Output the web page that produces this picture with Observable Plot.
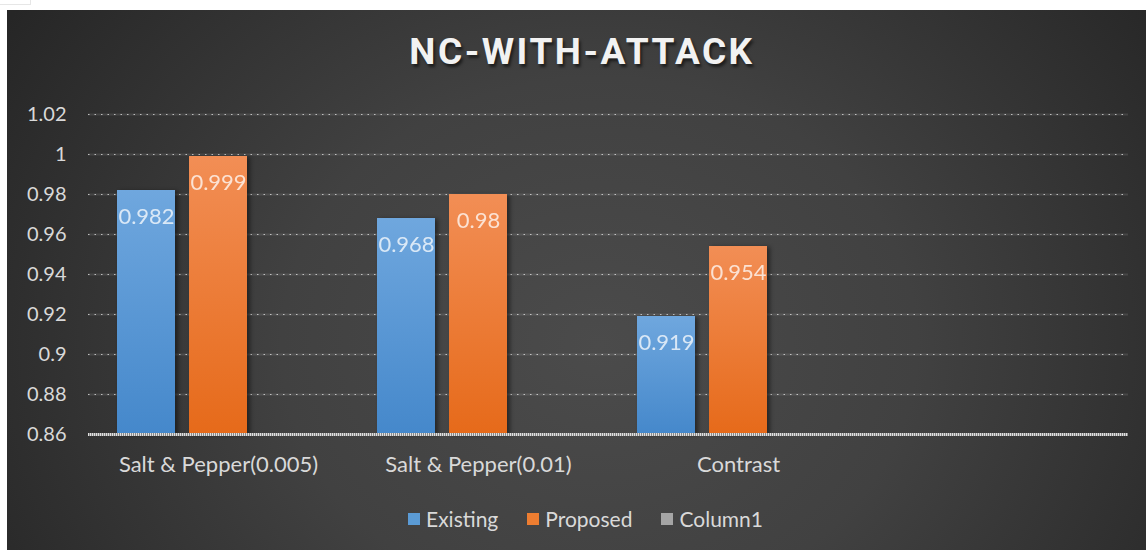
<!DOCTYPE html>
<html>
<head>
<meta charset="utf-8">
<script src="https://cdn.jsdelivr.net/npm/d3@7"></script>
<script src="https://cdn.jsdelivr.net/npm/@observablehq/plot@0.6"></script>
<style>
  html, body { margin: 0; padding: 0; background: #ffffff; width: 1146px; height: 550px; overflow: hidden; }
  #corner { position: absolute; left: 0; top: 0; width: 30px; height: 4px; border: 1px solid #e6e6e6; border-top: none; border-left: none; }
  #frame { position: absolute; left: 7px; top: 10px; width: 1139px; height: 540px;
    background: radial-gradient(ellipse 62% 110% at 52% 62%, #4b4b4b 0%, #414141 45%, #262626 100%); }
  #title { position: absolute; left: 0; top: 30px; width: 1164px; text-align: center; font-family: Roboto, sans-serif;
    font-weight: 700; font-size: 37px; line-height: 44px; letter-spacing: 2.5px; color: #f2f2f2; text-shadow: 2px 3px 3px rgba(0,0,0,0.55); }
  #chart { position: absolute; left: 0; top: 90px; }
  #legend { position: absolute; left: 408px; top: 506px; display: flex; align-items: center; font-family: Lato, sans-serif;
    font-size: 21px; color: #d9d9d9; }
  .item { display: flex; align-items: center; margin-right: 29px; }
  .sw { width: 12px; height: 12px; margin-right: 6px; }
</style>
</head>
<body>
<div id="corner"></div>
<div id="frame"></div>
<div id="title">NC-WITH-ATTACK</div>
<div id="chart"></div>
<div id="legend"></div>
<script>
const categories = ["Salt & Pepper(0.005)", "Salt & Pepper(0.01)", "Contrast", " "];
const series = ["Existing", "Proposed", "Column1"];
const existing = [0.982, 0.968, 0.919, null];
const proposed = [0.999, 0.98, 0.954, null];
const column1 = [null, null, null, null];
const yTicks = [0.86, 0.88, 0.9, 0.92, 0.94, 0.96, 0.98, 1, 1.02];
const seriesColors = ["#5b9bd5", "#ed7d31", "#a5a5a5"];

const rows = (name, vals) => categories.map((c, i) => ({cat: c, series: name, v: vals[i]})).filter(d => d.v != null);
const dExisting = rows("Existing", existing);
const dProposed = rows("Proposed", proposed);
const dColumn1 = rows("Column1", column1);
const allBars = [...dExisting, ...dProposed, ...dColumn1];

const grid = categories.flatMap(c => yTicks.filter(t => t > 0.86).map(t => ({cat: c, t})));
const base = categories.map(c => ({cat: c, t: 0.86}));

const fmt = d => String(+(+d).toFixed(3));

const chart = Plot.plot({
  width: 1146,
  height: 394,
  marginLeft: 88,
  marginRight: 18,
  marginTop: 24,
  marginBottom: 50,
  style: {background: "transparent", color: "#d9d9d9", fontFamily: "Lato, sans-serif", fontSize: "20px", overflow: "visible"},
  fx: {domain: categories, padding: 0, axis: "bottom", label: null, tickSize: 0, tickPadding: 22},
  x: {domain: series, padding: 0.2, paddingOuter: 0.4, axis: null},
  y: {domain: [0.86, 1.02], ticks: yTicks, tickSize: 0, tickPadding: 22, label: null, tickFormat: fmt},
  marks: [
    Plot.ruleY(grid, {fx: "cat", y: "t", stroke: "white", strokeOpacity: 0.1, strokeWidth: 2}),
    Plot.ruleY(grid, {fx: "cat", y: "t", stroke: "white", strokeOpacity: 0.65, strokeWidth: 1.2, strokeDasharray: "1.5,5"}),
    Plot.barY(dExisting, {fx: "cat", x: "series", y1: 0.86, y2: "v", fill: "url(#gExisting)"}),
    Plot.barY(dProposed, {fx: "cat", x: "series", y1: 0.86, y2: "v", fill: "url(#gProposed)"}),
    Plot.barY(dColumn1, {fx: "cat", x: "series", y1: 0.86, y2: "v", fill: "url(#gColumn1)"}),
    Plot.text(allBars, {fx: "cat", x: "series", y: "v", text: d => fmt(d.v), dy: 26, fill: "white", fillOpacity: 0.75, fontSize: 22}),
    Plot.ruleY(base, {fx: "cat", y: "t", stroke: "#8a8a8a", strokeWidth: 3}),
    Plot.ruleY(base, {fx: "cat", y: "t", stroke: "#e0e0e0", strokeWidth: 3, strokeDasharray: "1,1"})
  ]
});

const ns = "http://www.w3.org/2000/svg";
const defs = document.createElementNS(ns, "defs");
const grads = [["gExisting", "#6fa7de", "#4588cb"], ["gProposed", "#f28e55", "#e66a1a"], ["gColumn1", "#b5b5b5", "#8f8f8f"]];
for (const [id, c1, c2] of grads) {
  const g = document.createElementNS(ns, "linearGradient");
  g.setAttribute("id", id); g.setAttribute("x1", "0"); g.setAttribute("y1", "0"); g.setAttribute("x2", "0"); g.setAttribute("y2", "1");
  for (const [o, c] of [["0", c1], ["1", c2]]) {
    const s = document.createElementNS(ns, "stop");
    s.setAttribute("offset", o); s.setAttribute("stop-color", c);
    g.appendChild(s);
  }
  defs.appendChild(g);
}
chart.insertBefore(defs, chart.firstChild);
chart.querySelectorAll('g[aria-label="bar"]').forEach(g => g.style.filter = "drop-shadow(3px 1px 2px rgba(0,0,0,0.45))");
chart.querySelectorAll('g[aria-label="fx-axis tick label"] text, g[aria-label="fx-axis"] text').forEach(t => t.style.fontSize = "22px");
document.getElementById("chart").appendChild(chart);

const legend = document.getElementById("legend");
series.forEach((s, i) => {
  const item = document.createElement("div");
  item.className = "item";
  const sw = document.createElement("div");
  sw.className = "sw";
  sw.style.background = seriesColors[i];
  const label = document.createElement("span");
  label.textContent = s;
  item.appendChild(sw); item.appendChild(label);
  legend.appendChild(item);
});
</script>
</body>
</html>
